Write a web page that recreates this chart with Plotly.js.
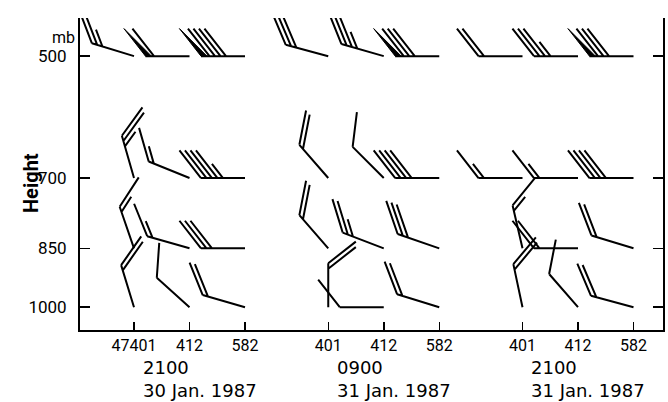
<!DOCTYPE html>
<html>
<head>
<meta charset="utf-8">
<script src="https://cdn.plot.ly/plotly-3.0.1.min.js"></script>
<style>html,body{margin:0;padding:0;background:#fff;}#chart{width:668px;height:402px;}</style>
</head>
<body>
<div id="chart"></div>
<script>
// ---- data ----
const levels = [500, 700, 850, 1000];           // mb
const stations_g1 = ['47401', '412', '582'];
const stations_g2 = ['401', '412', '582'];
const stations_g3 = ['401', '412', '582'];
const time_g1 = ['2100', '30 Jan. 1987'];
const time_g2 = ['0900', '31 Jan. 1987'];
const time_g3 = ['2100', '31 Jan. 1987'];
// wind direction (deg, from) rows = levels, cols = stations
const dir_g1 = [[287, 270, 270], [344, 292, 270], [341, 286, 270], [343, 312, 286]];
const dir_g2 = [[285, 286, 270], [319, 315, 270], [319, 291, 289], [360, 270, 287]];
const dir_g3 = [[270, 270, 270], [270, 270, 270], [347, 270, 287], [348, 319, 285]];
// wind speed (knots)
const spd_g1 = [[25, 60, 90], [25, 15, 45], [15, 15, 30], [20, 10, 20]];
const spd_g2 = [[30, 35, 80], [20, 10, 40], [20, 25, 30], [20, 10, 20]];
const spd_g3 = [[20, 35, 80], [15, 15, 40], [15, 20, 20], [20, 10, 20]];

const groups = [
  {st: stations_g1, t: time_g1, d: dir_g1, s: spd_g1},
  {st: stations_g2, t: time_g2, d: dir_g2, s: spd_g2},
  {st: stations_g3, t: time_g3, d: dir_g3, s: spd_g3}
];
const GAP = 3.5; // group spacing in station units

// ---- barb geometry (pixels, y up), anchored at station/level through axes ----
function f(v){ return v.toFixed(2); }
function barb(dir, spd){
  const S = 44, L = 35, H = 18, sp = 5.5, pw = 6, rot = -52 * Math.PI / 180;
  const th = (90 - dir) * Math.PI / 180;
  const ux = Math.cos(th), uy = Math.sin(th);
  const fx = Math.cos(th + rot), fy = Math.sin(th + rot);
  let line = 'M0,0L' + f(S * ux) + ',' + f(S * uy);
  const flags = [];
  let rem = Math.round(spd / 5) * 5;
  let pos = S;
  let nP = Math.floor(rem / 50); rem -= nP * 50;
  let nF = Math.floor(rem / 10); rem -= nF * 10;
  let nH = rem >= 5 ? 1 : 0;
  for (let i = 0; i < nP; i++) {
    flags.push('M' + f(pos * ux) + ',' + f(pos * uy) + 'L' + f(pos * ux + L * fx) + ',' + f(pos * uy + L * fy) +
               'L' + f((pos - pw) * ux) + ',' + f((pos - pw) * uy) + 'Z');
    pos -= pw + 2.5;
  }
  if (nP === 0 && nF === 0 && nH) pos -= sp;
  for (let i = 0; i < nF; i++) {
    line += 'M' + f(pos * ux) + ',' + f(pos * uy) + 'L' + f(pos * ux + L * fx) + ',' + f(pos * uy + L * fy);
    pos -= sp;
  }
  if (nH) line += 'M' + f(pos * ux) + ',' + f(pos * uy) + 'L' + f(pos * ux + H * fx) + ',' + f(pos * uy + H * fy);
  return {line, flags};
}

const shapes = [];
const tickvals = [], ticktext = [];
groups.forEach((g, gi) => {
  g.st.forEach((name, si) => {
    const x = gi * GAP + si;
    tickvals.push(x); ticktext.push(name);
    levels.forEach((p, li) => {
      const b = barb(g.d[li][si], g.s[li][si]);
      const base = {type: 'path', xref: 'x', yref: 'y', xsizemode: 'pixel', ysizemode: 'pixel',
                    xanchor: x, yanchor: p, layer: 'above'};
      shapes.push(Object.assign({}, base, {path: b.line, line: {color: '#000', width: 2}, fillcolor: 'rgba(0,0,0,0)'}));
      b.flags.forEach(fl => shapes.push(Object.assign({}, base, {path: fl, line: {color: '#000', width: 1}, fillcolor: '#000'})));
    });
  });
});

// ---- layout ----
const W = 668, H = 402, ML = 80, MR = 5, MT = 18, MB = 72;
const PW = W - ML - MR, PH = H - MT - MB;
const px = v => (v - ML) / PW, py = v => (H - MB - v) / PH;
const font = 'Roboto, "DejaVu Sans", sans-serif';
const font2 = '"DejaVu Sans", Roboto, sans-serif';
const annotations = [
  {text: 'mb', x: px(63), y: py(37), xref: 'paper', yref: 'paper', showarrow: false, xanchor: 'center', yanchor: 'middle',
   font: {family: font, size: 16, color: '#000'}},
  {text: '<b>Height</b>', x: px(31), y: py(183), xref: 'paper', yref: 'paper', showarrow: false, textangle: -90,
   xanchor: 'center', yanchor: 'middle', font: {family: font, size: 20, color: '#000'}}
];
groups.forEach((g, gi) => {
  const x0 = gi * GAP + 0.14;
  annotations.push({text: g.t[0] + '<br>' + g.t[1], x: x0, xref: 'x', y: py(401.5), yref: 'paper', showarrow: false,
                    xanchor: 'left', yanchor: 'bottom', align: 'left', borderpad: 0,
                    font: {family: font2, size: 18, color: '#000'}});
});

const layout = {
  width: W, height: H, margin: {l: ML, r: MR, t: MT, b: MB, pad: 0},
  paper_bgcolor: '#fff', plot_bgcolor: '#fff', showlegend: false,
  xaxis: {range: [-(134 - ML) / 55.5, -(134 - ML) / 55.5 + PW / 55.5], showline: true, linewidth: 2, linecolor: '#000',
          ticks: 'inside', ticklen: 8, tickwidth: 1.5, tickcolor: '#000', tickvals, ticktext,
          tickfont: {family: font, size: 16, color: '#000'}, showgrid: false, zeroline: false, fixedrange: true},
  yaxis: {type: 'log', range: [Math.log10(1065), Math.log10(450)], showline: true, linewidth: 2, linecolor: '#000',
          mirror: 'ticks', ticks: 'inside', ticklen: 10, tickwidth: 1.5, tickcolor: '#000',
          tickvals: levels, ticktext: levels.map(String), tickfont: {family: font, size: 17, color: '#000'},
          ticklabelstandoff: 8, showgrid: false, zeroline: false, fixedrange: true},
  shapes, annotations
};
const trace = {x: tickvals, y: tickvals.map(() => 1000), type: 'scatter', mode: 'markers',
               marker: {size: 1, color: 'rgba(0,0,0,0)'}, hoverinfo: 'skip'};
Plotly.newPlot('chart', [trace], layout, {staticPlot: true, displayModeBar: false});
</script>
</body>
</html>
